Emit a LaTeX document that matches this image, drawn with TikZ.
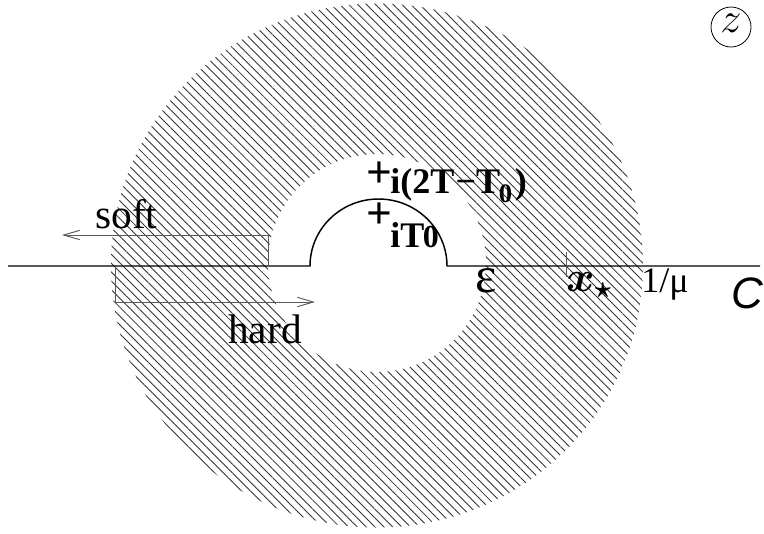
\RequirePackage{fix-cm}
\documentclass[tikz,border=0pt]{standalone}
\usepackage{amsmath}
\usepackage{fontspec}
\setmainfont{Liberation Serif}
\setsansfont{Liberation Sans}
\usetikzlibrary{patterns.meta,arrows.meta}

\begin{document}
\begin{tikzpicture}[x=0.75pt, y=-0.75pt,
	hatch/.style={pattern={Lines[angle=-45, distance=4.7pt, line width=0.65pt]}, pattern color=black!80},
	guide/.style={line width=0.7pt, color=black!65},
	tip/.style={-{Straight Barb[length=12pt, width=7pt]}}]
	\useasboundingbox (0,0) rectangle (764,533);
	% shaded ring
	\path[hatch, even odd rule] (377,265.5) ellipse [x radius=266, y radius=262]
		(377,263) circle [radius=109];
	% contour with the bump
	\draw[line width=1.1pt] (8,266) -- (310,266)
		arc [start angle=180, end angle=360, x radius=68.5, y radius=67] -- (760,266);
	\draw[guide, tip] (268,266) |- (62,235);
	\draw[guide, tip] (115,266) |- (315,302);
	\draw[guide] (566,252) -- (566,277);
	\node[anchor=base west, inner sep=0pt, font=\fontsize{31}{31}\selectfont] (soft) at (95,228) {soft};
	\node[anchor=base west, inner sep=0pt, font=\fontsize{31}{31}\selectfont] (hard) at (228,343) {hard};
	\node[anchor=base, inner sep=0pt, font=\fontsize{34}{34}\selectfont\bfseries] (plusA) at (379,187) {+};
	\node[anchor=base west, inner sep=0pt, font=\fontsize{27}{27}\selectfont\bfseries] (labA) at (390,193)
		{i(2T\kern1pt−T\kern-1pt\raisebox{-7pt}{\fontsize{20}{20}\selectfont 0}\kern2pt)};
	\node[anchor=base, inner sep=0pt, font=\fontsize{34}{34}\selectfont\bfseries] (plusB) at (379,228) {+};
	\node[anchor=base west, inner sep=0pt, font=\fontsize{27}{27}\selectfont\bfseries] (labB) at (390,247)
		{iT\kern-1pt{\fontsize{24}{24}\selectfont 0}};
	\node[anchor=base west, inner sep=0pt, font=\fontsize{38}{38}\selectfont] (eps) at (475,292) {ε};
	\node[anchor=base west, inner sep=0pt, font=\fontsize{32}{32}\selectfont\boldmath] (xstar) at (566,291) {$x_\star$};
	\node[anchor=base west, inner sep=0pt, font=\fontsize{27}{27}\selectfont] (mu) at (641,292) {1/μ};
	\node[anchor=base west, inner sep=0pt, font=\fontsize{33}{33}\selectfont\sffamily\itshape] (cC) at (731,308) {C};
	\node[circle, draw, line width=0.6pt, minimum size=30pt, inner sep=0pt, text height=10pt, text depth=2pt, font=\fontsize{32}{32}\selectfont] (zz) at (731,27) {$z$};
\end{tikzpicture}
\end{document}
